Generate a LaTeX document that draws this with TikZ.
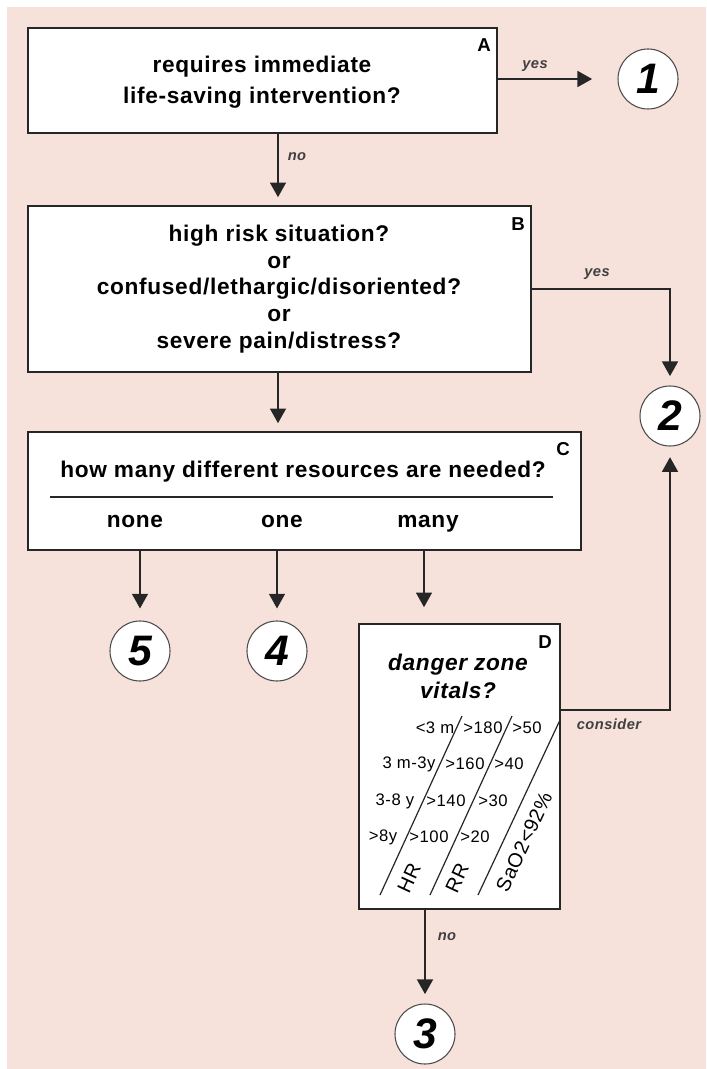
\documentclass[tikz,border=0pt]{standalone}
\usepackage{fontspec}
\setmainfont{Liberation Sans}
\newfontfamily\lsp[LetterSpace=3]{Liberation Sans}
\usetikzlibrary{arrows.meta,fit,calc}
\definecolor{bgpink}{RGB}{247,226,219}
\begin{document}
\begin{tikzpicture}[x=0.75pt,y=-0.75pt,
  box/.style={draw=black!85, line width=1.2pt, fill=white, inner sep=0pt},
  arr/.style={line width=1.1pt, draw=black!85, -{Triangle[width=12pt,length=11pt]}},
  sepline/.style={line width=1.1pt, draw=black!85},
  dline/.style={line width=0.9pt, draw=black!85},
  circ/.style={circle, draw=black!70, line width=0.8pt, fill=white, minimum size=45pt, inner sep=0pt, font=\fontsize{32}{32}\selectfont\bfseries\itshape},
  maintxt/.style={font=\lsp\fontsize{17}{20}\selectfont\bfseries, align=center, inner sep=0pt},
  corner/.style={font=\fontsize{14}{14}\selectfont\bfseries, inner sep=0pt},
  elabel/.style={font=\lsp\fontsize{11}{12}\selectfont\bfseries\itshape, text=black!75, inner sep=0pt},
  vit/.style={font=\lsp\fontsize{12.5}{13}\selectfont, inner sep=0pt},
  vitbig/.style={font=\lsp\fontsize{15}{15}\selectfont, inner sep=0pt, rotate=65}
]
\useasboundingbox (0,0) rectangle (706,1069);
\fill[white] (0,0) rectangle (706,1069);
\fill[bgpink] (7,7) rectangle (706,1069);

\coordinate (spine) at (278,0);
\coordinate (mcol) at (424,0);
\coordinate (consy) at (0,710);

% Box A
\node[box, fit={(28,28) (497,133)}] (A) {};
\node[maintxt] (At) at (262,82) {requires immediate\\[3pt]life-saving intervention?};
\node[corner] (Al) at (484,45) {A};
\node[circ] (c1) at (648,79) {1};
\draw[arr, shorten >=19pt] (A.east |- c1) -- (c1.west);
\node[elabel] (yesA) at (535,66) {yes};

% Box B
\node[box, fit={(28,206) (531,372)}] (B) {};
\node[maintxt] (Bt) at (279,289) {high risk situation?\\or\\confused/lethargic/disoriented?\\or\\severe pain/distress?};
\node[corner] (Bl) at (518,224) {B};
\draw[arr, shorten >=6pt] (A.south -| spine) -- (B.north -| spine);
\node[elabel] (noA) at (297,157) {no};

\node[circ] (c2) at (670,416) {2};
\draw[arr, shorten >=7pt] (B.east) -| (c2.north);
\node[elabel] (yesB) at (597,274) {yes};

% Box C
\node[box, fit={(28,432) (581,550)}] (C) {};
\node[maintxt] (Ct) at (303,472) {how many different resources are needed?};
\node[corner] (Cl) at (563,449) {C};
\draw[sepline] (50,497) -- (553,497);
\node[maintxt, anchor=base] (none) at (135,527) {none};
\node[maintxt, anchor=base] (one) at (282,527) {one};
\node[maintxt, anchor=base] (many) at (428,527) {many};
\draw[arr, shorten >=6pt] (B.south -| spine) -- (C.north -| spine);

\node[circ] (c5) at (140,651) {5};
\node[circ] (c4) at (277,651) {4};
\draw[arr, shorten >=9pt] (C.south -| c5) -- (c5.north);
\draw[arr, shorten >=9pt] (C.south -| c4) -- (c4.north);

% Box D
\node[box, fit={(359,624) (560,909)}] (D) {};
\draw[arr, shorten >=12pt] (C.south -| mcol) -- (D.north -| mcol);
\node[corner] (Dl) at (545,642) {D};
\node[maintxt, font=\lsp\fontsize{17}{21}\selectfont\bfseries\itshape] (Dt) at (458,676) {danger zone\\vitals?};

\node[vit] (r1a) at (435,728) {<3 m};
\node[vit] (r1b) at (483,728) {>180};
\node[vit] (r1c) at (527,728) {>50};
\node[vit] (r2a) at (409,764) {3 m-3y};
\node[vit] (r2b) at (465,764) {>160};
\node[vit] (r2c) at (509,764) {>40};
\node[vit] (r3a) at (395,801) {3-8 y};
\node[vit] (r3b) at (446,801) {>140};
\node[vit] (r3c) at (493,801) {>30};
\node[vit] (r4a) at (383,837) {>8y};
\node[vit] (r4b) at (429,837) {>100};
\node[vit] (r4c) at (475,837) {>20};

\draw[dline] (462,716) -- (380,895);
\draw[dline] (512,716) -- (430,895);
\draw[dline] (560,720) -- (478,895);

\node[vitbig] (hr) at (409,878) {HR};
\node[vitbig] (rr) at (457,878) {RR};
\node[vitbig] (sao) at (524,842) {SaO2<92\%};

\draw[arr, shorten >=8pt] (D.east |- consy) -| (c2.south);
\node[elabel] (cons) at (609,724) {consider};

\node[circ] (c3) at (425,1034) {3};
\draw[arr, shorten >=7pt] (D.south -| c3) -- (c3.north);
\node[elabel] (noD) at (447,937) {no};
\end{tikzpicture}
\end{document}
